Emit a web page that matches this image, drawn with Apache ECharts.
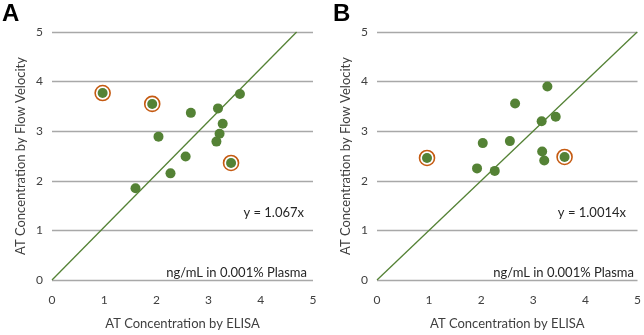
<!DOCTYPE html>
<html>
<head>
<meta charset="utf-8">
<script src="https://cdn.jsdelivr.net/npm/echarts@6/dist/echarts.min.js"></script>
<style>
  html, body { margin: 0; padding: 0; background: #fff; }
  #chart { width: 644px; height: 335px; }
</style>
</head>
<body>
<div id="chart"></div>
<script>
// panel A: ELISA vs flow velocity
const aElisa = [0.97, 1.92, 3.60, 2.66, 3.18, 3.27, 3.21, 3.15, 2.04, 2.56, 3.43, 2.27, 1.60];
const aFlow = [3.77, 3.55, 3.75, 3.37, 3.46, 3.15, 2.95, 2.79, 2.89, 2.49, 2.36, 2.15, 1.85];
const aCircled = [0, 1, 10];
const aSlope = 1.067;

// panel B
const bElisa = [0.96, 1.92, 2.03, 2.26, 2.55, 2.65, 3.27, 3.16, 3.43, 3.17, 3.21, 3.60];
const bFlow = [2.46, 2.25, 2.76, 2.20, 2.80, 3.56, 3.90, 3.20, 3.29, 2.59, 2.41, 2.48];
const bCircled = [0, 11];
const bSlope = 1.0014;

const ticks = [0, 1, 2, 3, 4, 5];
const xTitle = "AT Concentration by ELISA";
const yTitle = "AT Concentration by Flow Velocity";
const unitNote = "ng/mL in 0.001% Plasma";

const green = "#548235";
const orange = "#C55A11";
const font = "Lato";

const pts = (xs, ys) => xs.map((x, i) => [x, ys[i]]);
const circled = (xs, ys, idx) => idx.map((i) => [xs[i], ys[i]]);
const trend = (slope) => [[0, 0], [ticks[5] / slope, ticks[5]]];

function xAxis(gridIndex) {
  return {
    gridIndex,
    type: "value",
    min: 0,
    max: 5,
    interval: 1,
    name: xTitle,
    nameLocation: "middle",
    nameGap: 37,
    nameTextStyle: { color: "#404040", fontSize: 13, fontFamily: font },
    axisLine: { show: false },
    axisTick: { show: false },
    splitLine: { show: false },
    axisLabel: { color: "#404040", fontSize: 12, fontFamily: font, margin: 14 },
  };
}

function yAxis(gridIndex) {
  return {
    gridIndex,
    type: "value",
    min: 0,
    max: 5,
    interval: 1,
    name: yTitle,
    nameLocation: "middle",
    nameGap: 25,
    nameTextStyle: { color: "#404040", fontSize: 13, fontFamily: font },
    axisLine: { show: false },
    axisTick: { show: false },
    splitLine: { lineStyle: { color: "#a8a8a8", width: 1.3 } },
    axisLabel: { color: "#404040", fontSize: 12, fontFamily: font, margin: 9 },
  };
}

function panelSeries(i, xs, ys, idx, slope) {
  return [
    {
      type: "line",
      xAxisIndex: i,
      yAxisIndex: i,
      data: trend(slope),
      symbol: "none",
      lineStyle: { color: green, width: 1.3 },
      silent: true,
    },
    {
      type: "scatter",
      xAxisIndex: i,
      yAxisIndex: i,
      data: pts(xs, ys),
      symbolSize: 10,
      itemStyle: { color: green, opacity: 1 },
    },
    {
      type: "scatter",
      xAxisIndex: i,
      yAxisIndex: i,
      data: circled(xs, ys, idx),
      symbol: "circle",
      symbolSize: 15,
      itemStyle: { color: "transparent", borderColor: orange, borderWidth: 1.6, opacity: 1 },
    },
  ];
}

function note(text, right, top) {
  return {
    type: "text",
    right,
    top,
    style: { text, fill: "#262626", font: "13px " + font },
  };
}

const chart = echarts.init(document.getElementById("chart"));
chart.setOption({
  animation: false,
  backgroundColor: "#fff",
  grid: [
    { left: 52, right: 331, top: 32, bottom: 45.5 },
    { left: 377, right: 6, top: 32, bottom: 45 },
  ],
  xAxis: [xAxis(0), xAxis(1)],
  yAxis: [yAxis(0), yAxis(1)],
  series: [
    ...panelSeries(0, aElisa, aFlow, aCircled, aSlope),
    ...panelSeries(1, bElisa, bFlow, bCircled, bSlope),
  ],
  graphic: [
    { type: "text", left: 2, top: 2, style: { text: "A", fill: "#000", font: "bold 24px Liberation Sans" } },
    { type: "text", left: 333, top: 2, style: { text: "B", fill: "#000", font: "bold 24px Liberation Sans" } },
    note("y = 1.067x", 644 - 304, 206),
    note(unitNote, 644 - 307, 266),
    note("y = 1.0014x", 644 - 626, 206),
    note(unitNote, 644 - 634, 266),
  ],
});
</script>
</body>
</html>
